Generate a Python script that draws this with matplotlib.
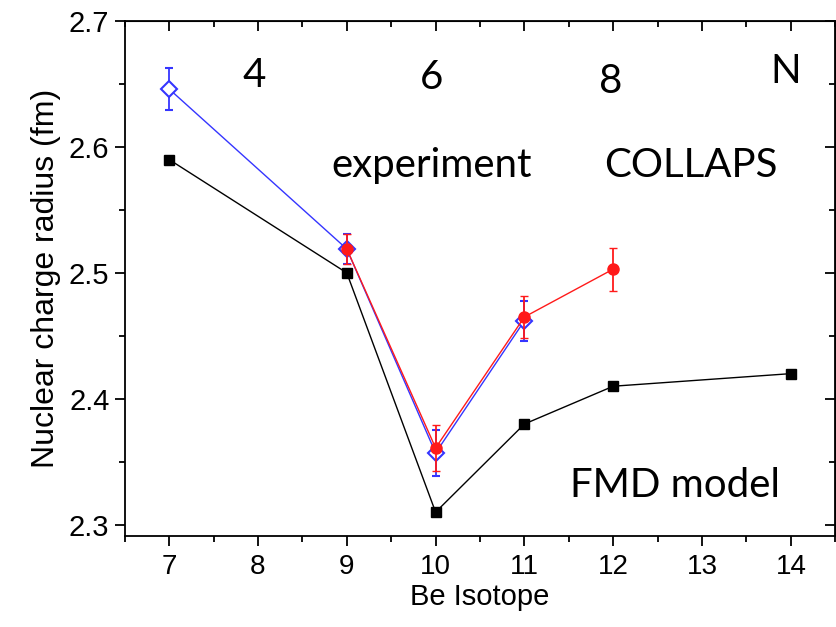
import matplotlib
matplotlib.use("Agg")
import matplotlib.pyplot as plt
from matplotlib.ticker import MultipleLocator, FormatStrFormatter

# Be isotopes: FMD model, earlier experiment (blue), COLLAPS (red)
iso_fmd = [7, 9, 10, 11, 12, 14]
r_fmd = [2.59, 2.50, 2.31, 2.38, 2.41, 2.42]

iso_exp = [7, 9, 10, 11]
r_exp = [2.646, 2.519, 2.357, 2.462]
err_exp = [0.017, 0.012, 0.018, 0.016]

iso_col = [9, 10, 11, 12]
r_col = [2.519, 2.361, 2.465, 2.503]
err_col = [0.012, 0.018, 0.017, 0.017]

neutron_labels = ["4", "6", "8", "N"]

plt.rcParams['font.family'] = ['Liberation Sans', 'DejaVu Sans']

fig = plt.figure(figsize=(8.37, 6.27), dpi=100)
ax = fig.add_axes([0.149, 0.145, 0.849, 0.8215])

ax.plot(iso_fmd, r_fmd, color='black', lw=1, marker='s', ms=7, zorder=2)
ax.errorbar(iso_exp, r_exp, yerr=err_exp, color='#3535ff', lw=1, marker='D', ms=8,
            mfc='white', mec='#3535ff', mew=1.5, capsize=3, elinewidth=1.3, zorder=3)
ax.errorbar(iso_col, r_col, yerr=err_col, color='#ff1a1a', lw=1, marker='o', ms=8,
            mfc='#ff1a1a', mec='#ff1a1a', capsize=3, elinewidth=1.3, zorder=4)

ax.set_xlim(6.5, 14.5)
ax.set_ylim(2.291, 2.7)
ax.xaxis.set_major_locator(MultipleLocator(1))
ax.xaxis.set_minor_locator(MultipleLocator(0.5))
ax.yaxis.set_major_locator(MultipleLocator(0.1))
ax.yaxis.set_minor_locator(MultipleLocator(0.05))
ax.yaxis.set_major_formatter(FormatStrFormatter('%.1f'))
ax.tick_params(which='both', direction='out', width=1.3)
ax.tick_params(axis='y', labelsize=21, pad=4)
ax.tick_params(axis='x', labelsize=20, pad=6)
ax.tick_params(which='major', length=7)
ax.tick_params(which='minor', length=4)
for s in ax.spines.values():
    s.set_linewidth(1.3)

# mirrored inward ticks on top and right
axt = ax.secondary_xaxis('top')
axt.xaxis.set_major_locator(MultipleLocator(1))
axt.xaxis.set_minor_locator(MultipleLocator(0.5))
axt.tick_params(which='both', direction='in', labeltop=False, width=1.3)
axt.tick_params(which='major', length=7)
axt.tick_params(which='minor', length=4)
axr = ax.secondary_yaxis('right')
axr.yaxis.set_major_locator(MultipleLocator(0.1))
axr.yaxis.set_minor_locator(MultipleLocator(0.05))
axr.tick_params(which='both', direction='in', labelright=False, width=1.3)
axr.tick_params(which='major', length=7)
axr.tick_params(which='minor', length=4)

ax.set_xlabel("Be Isotope", fontsize=21, labelpad=2)
ax.set_ylabel("Nuclear charge radius (fm)", fontsize=23, labelpad=6)

tf = dict(fontsize=29, family=['Lato', 'DejaVu Sans'], ha='center', va='center')
for xv, yv, lab in zip([7.96, 9.96, 11.97, 13.94], [2.657, 2.655, 2.652, 2.660], neutron_labels):
    ax.text(xv, yv, lab, **tf)
ax.text(9.96, 2.585, "experiment", **tf)
ax.text(12.87, 2.585, "COLLAPS", **tf)
ax.text(12.70, 2.331, "FMD model", **tf)

fig.savefig("out.png", dpi=100)
